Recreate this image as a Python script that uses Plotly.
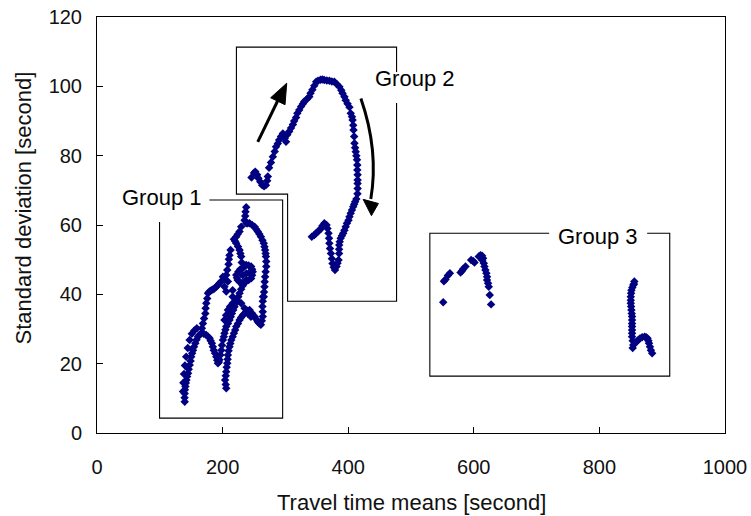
import plotly.graph_objects as go

# ---------------- data ----------------
G1_X = [139.7,139.5,139.7,140,140.8,141.5,142.4,143.5,145,146,147.6,149,150,151.5,152.9,154.5,156.6,158.5,160.8,163,166,170,174,177,179.4,181,183,184.5,186,188,190,191.5,192.6,194,195,196.5,198,199,200.5,202,203,204.5,205.8,208.5,211,213,214.8,217,219,221,223,225,227,229.6,232,235,237.6,
        137,137.5,138.5,140,142,144.5,147.5,151,155,159,
        205.8,205,204,205,205.8,206.5,207.4,208,208.4,209.5,211,212.3,213.8,216,218,220,221.7,224.5,227,229.5,232,235,237.6,240,243,247,251,253.5,256,258.5,261,262.5,264,264,263.5,264,264.3,
        237.6,236.5,236,235,237.6,240,243,247,251,253.5,256,258.5,261,263.5,265.6,266.7,267.7,268.5,269,269.5,269.5,268.5,267.7,267,266.7,266,265.6,
        229.6,227,224,221.7,218,220,221.7,224.5,227,228.3,229.6,230.5,232,
        235,237.6,241.5,245.5,247,248,247,245.5,241.5,237.6,233.5,229.6,226.8,224,222.8,221.7,225,228,
        238,243,232,
        212.7,211,210,209.5,207.4,205.8,
        203,200.5,197.8,195,192.6,190,187,184.5,182,179,176.7,175.5,174,173,172.5,170.5,168.7,167,
        203,205.8,208.4,216,216,216,212,208.4,205.5,203,229.6,235,240,245]
G1_Y = [9.0,10.2,11.4,12.5,13.4,14.4,15.3,16.3,17.2,18.4,19.6,20.8,22,23,23.9,24.9,25.9,26.9,27.8,28.3,28.8,28.6,28.3,27.8,27.3,26.6,25.9,24.9,23.9,23,22,21,20.1,20.5,21.1,22.5,23.9,25.3,26.8,27.8,28.8,29.8,30.7,31.6,32.6,33.5,34.5,35.5,36.4,37.4,38.4,39.3,40.3,41.5,42.5,43.5,44.1,
        12,14.5,17,19.5,22,24.5,26.8,28.6,29.6,30.2,
        12.9,14,15.3,16.5,17.7,19,20.1,21.3,22.5,23.7,24.9,25.8,26.8,27.8,28.8,29.7,30.7,31.6,32.6,33.3,34,34.5,35,35.3,35.5,34.5,33.6,32.8,32.1,31.6,31.2,32.4,33.6,35,36.5,38,39.3,
        65.1,63.8,62.6,61.4,60.5,60.5,60.5,60,59.5,58.8,58.1,57.4,56.6,55.6,54.7,53.7,52.8,51.8,50.9,49.5,48,46.5,45.1,43.6,42.2,40.7,39.3,
        59.5,58.1,57.3,56.6,55.9,55.3,54.7,53.8,52.8,51.8,50.9,49.2,47.5,
        48.2,48.5,48.3,48,47.2,46.5,45.5,44.6,44.1,43.7,43.4,43.2,43.6,44.1,44.8,45.6,46.5,47.2,
        46,46.3,45.5,
        52.8,51.3,50.1,48.7,47,45.6,
        44.5,45.1,43.7,43.2,42.7,42.2,41.7,41.4,41.2,40.8,40.3,38.8,37.4,36,34.5,33,31.6,30.2,
        42.2,40.8,43.7,41.2,39.3,37.4,36.5,35.5,34,32.6,37.4,36,34.5,33.5]

G2_X = [246,250,252,255,257,260,263,266,269,271,272,274,277,280,283,285,288,290,293,296,299,301,303,306,309,312,314,317,319,322,325,328,330,334,338,340,343,346,349,352,356,359,362,366,370,374,378,382,386,389,391,394,396,399,402,404,406,407,408,408.5,409.5,410,411,412,413,414,414.5,414.5,415,415,415,415,414.8,413,411,409.5,408,406,404,402,400.5,398,396,394,392,390,388,386.5,385.7,385.5,385.5,384.6,383,381.5,379,377,375,374,372.5,371,370,369.5,368.7,367,365.5,362,359,356.7,354,351,348,346,342]
G2_Y = [73.7,75,75.4,74.5,73.5,72.5,71.5,71.2,71.5,72.8,74,76.5,78,79.7,81.2,82.6,83.5,84.5,85.5,86.4,85,84,86,87,88,89,90,91,92.2,93.2,94.2,95,95.6,96.3,97,98,99,100.2,101.3,101.6,101.9,102,101.8,101.7,101.6,101.4,101.3,100.6,99.9,98.9,98,97,96,95,94,92.2,91.2,90.3,88.8,87.4,85.5,83.6,82.3,81.1,80,78.8,77.3,75.9,74.5,73,72,70.5,69,67.5,66.7,66,65.3,64.3,63.4,62.4,61.4,60.5,59.5,58.5,57.6,56.9,56.2,55.2,54.2,53,51.8,49.9,49,48,47,47.8,48.9,50.3,51.8,53.2,54.7,56.2,57.6,59,60,60.5,59.8,59,58.5,58,57.5,57.1,56.6]

G3_X = [551.3,552.4,555.0,558.7,561.9,578.9,581.4,583.0,586.8,595.7,598.9,601.1,607.9,610.6,613.2,614.8,612,613.5,615.9,617.0,618.5,620.1,621.1,621.1,622.7,623.8,625.4,627.5,
        855.6,855,854,852.5,851,850.5,850,850,850,850.5,851,851.5,852,852,852,852,852,852,852,853,854,853,856.5,859,862,864.6,868,872,874.5,876.7,878,879,880.5,882,884]
G3_Y = [37.7,43.8,44.3,45.4,46.1,46.3,46.8,47.3,48.0,49.9,49.6,49.2,50.9,51.3,51.1,50.4,50.6,49.8,49.0,48.0,47.0,46.1,45.1,44.1,43.2,42.2,39.8,37.1,
        43.7,43,42.7,42,41.2,40.3,39.3,38.3,37.4,36.5,35.5,34.5,33.6,32.6,31.6,30.7,29.7,28.8,27.8,26.6,25.4,24.5,25.9,26.3,26.8,27.3,27.6,27.8,27.6,27.3,26.6,25.9,24.9,23.9,23]

X_TICKS = [0, 200, 400, 600, 800, 1000]
Y_TICKS = [0, 20, 40, 60, 80, 100, 120]
X_TITLE = "Travel time means [second]"
Y_TITLE = "Standard deviation [second]"
GROUP_LABELS = ["Group 1", "Group 2", "Group 3"]

# ---------------- figure ----------------
NAVY = "#000080"
fig = go.Figure()
for gx, gy in [(G1_X, G1_Y), (G2_X, G2_Y), (G3_X, G3_Y)]:
    fig.add_trace(go.Scatter(x=gx, y=gy, mode="markers",
                             marker=dict(symbol="diamond", size=6.5, color=NAVY, line=dict(width=0)),
                             showlegend=False, hoverinfo="skip"))

box_line = dict(color="black", width=1.1)
# group outlines (open where their labels sit)
fig.add_shape(type="path", xref="x", yref="y", line=box_line,
              path="M 99.6,60.9 L 99.6,4.3 L 295.6,4.3 L 295.6,67.2 L 179,67.2")
fig.add_shape(type="path", xref="x", yref="y", line=box_line,
              path="M 477,95.2 L 477,38 L 303.5,38 L 303.5,68.9 L 222,68.9 L 222,111.3 L 477,111.3 L 477,104.1")
fig.add_shape(type="path", xref="x", yref="y", line=box_line,
              path="M 720,57.6 L 530,57.6 L 530,16.4 L 912,16.4 L 912,57.6 L 876,57.6")

# arrows
arrow_line = dict(color="black", width=3)
fig.add_shape(type="line", xref="x", yref="y", x0=256.0, y0=84.0, x1=289.5, y1=96.5, line=arrow_line)
fig.add_shape(type="path", xref="x", yref="y", line=dict(color="black", width=1), fillcolor="black",
              path="M 302.1,100.9 L 299.4,94.7 L 276.5,96.7 Z")
fig.add_shape(type="path", xref="x", yref="y", line=arrow_line,
              path="M 420.2,96.5 Q 449,81.4 436,67.5")
fig.add_shape(type="path", xref="x", yref="y", line=dict(color="black", width=1), fillcolor="black",
              path="M 423.8,67.4 L 448.1,66.2 L 437,62.7 Z")

label_font = dict(family="Liberation Sans, Arial, sans-serif", size=22, color="black")
for txt, lx, ly in zip(GROUP_LABELS, [103, 506, 798], [68, 102.4, 56.8]):
    fig.add_annotation(x=lx, y=ly, xref="x", yref="y", text=txt, showarrow=False, font=label_font)

tick_font = dict(family="Liberation Sans, Arial, sans-serif", size=20, color="#111")
title_font = dict(family="Liberation Sans, Arial, sans-serif", size=22, color="#111")
common = dict(showgrid=False, zeroline=False, showline=True, linecolor="black", linewidth=1,
              mirror=True, ticks="inside", ticklen=6, tickcolor="black", tickfont=tick_font,
              automargin=False)
fig.update_xaxes(range=[0, 1000], tickvals=X_TICKS, ticklabelstandoff=16, **common)
fig.update_yaxes(range=[0, 120], tickvals=Y_TICKS, ticklabelstandoff=10, **common)

# axis titles placed as paper-anchored text
fig.add_annotation(text=X_TITLE, xref="paper", yref="paper", x=0.5, y=-0.166,
                   xanchor="center", yanchor="middle", showarrow=False, font=title_font)
fig.add_annotation(text=Y_TITLE, xref="paper", yref="paper", x=-0.117, y=0.541, textangle=-90,
                   xanchor="center", yanchor="middle", showarrow=False, font=title_font)

fig.update_layout(width=751, height=516, margin=dict(l=97, r=26, t=17, b=83),
                  plot_bgcolor="white", paper_bgcolor="white")
fig.write_html("out.html")
